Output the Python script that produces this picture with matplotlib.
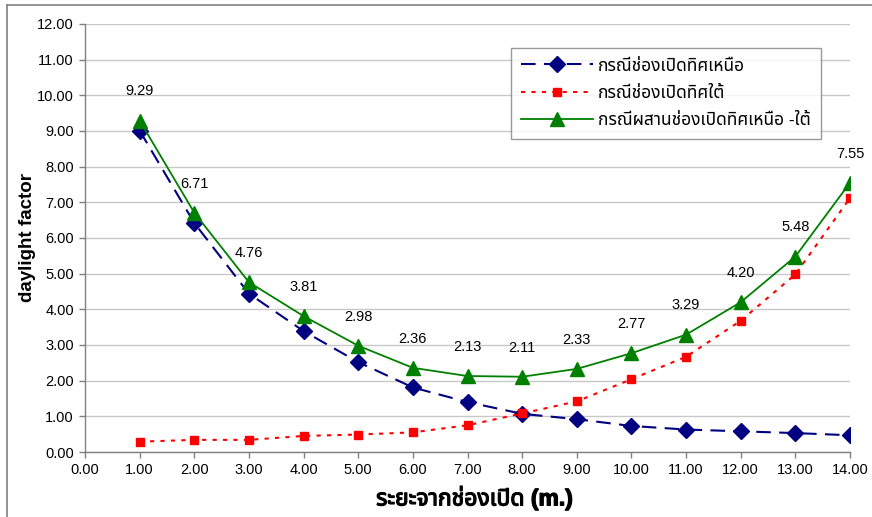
import matplotlib
matplotlib.use("Agg")
import matplotlib.pyplot as plt
from matplotlib import font_manager
from matplotlib.ft2font import FT2Font
from matplotlib.lines import Line2D
import matplotlib.patheffects as pe

# ---------------- data ----------------
distance = [1, 2, 3, 4, 5, 6, 7, 8, 9, 10, 11, 12, 13, 14]
north = [9.01, 6.42, 4.44, 3.39, 2.52, 1.81, 1.40, 1.07, 0.92, 0.73, 0.63, 0.58, 0.53, 0.47]
south = [0.29, 0.34, 0.34, 0.45, 0.49, 0.55, 0.75, 1.08, 1.42, 2.04, 2.67, 3.68, 4.98, 7.12]
combined = [9.29, 6.71, 4.76, 3.81, 2.98, 2.36, 2.13, 2.11, 2.33, 2.77, 3.29, 4.20, 5.48, 7.55]
series_names = ["กรณีช่องเปิดทิศเหนือ", "กรณีช่องเปิดทิศใต้", "กรณีผสานช่องเปิดทิศเหนือ -ใต้"]
x_label = "ระยะจากช่องเปิด (m.)"
y_label = "daylight factor"
y_ticks = [0, 1, 2, 3, 4, 5, 6, 7, 8, 9, 10, 11, 12]
x_ticks = list(range(0, 15))

# ---------------- fonts ----------------
def find_thai_font():
    seen = set()
    prefs = []
    for f in font_manager.fontManager.ttflist:
        if f.name in seen:
            continue
        try:
            cm = FT2Font(f.fname).get_charmap()
        except Exception:
            continue
        if 0x0E01 in cm and 0x0E13 in cm:
            seen.add(f.name)
            prefs.append(f.name)
    for p in ["Tahoma", "Noto Sans Thai", "Noto Sans Thai UI", "Loma", "Garuda", "Norasi"]:
        if p in prefs:
            return p
    return prefs[0] if prefs else None

thai = find_thai_font()
families = ["Liberation Sans"]
if thai:
    families.append(thai)
families.append("DejaVu Sans")
plt.rcParams["font.family"] = families

# ---------------- figure ----------------
fig = plt.figure(figsize=(8.72, 5.17), dpi=100)
ax = fig.add_axes([85 / 872, 1 - 452 / 517, (850 - 85) / 872, (452 - 24) / 517])

# outer chart frame (top and left edges)
fig.add_artist(Line2D([7 / 872, 7 / 872], [0, 1 - 5 / 517], transform=fig.transFigure,
                      color="#808080", lw=1.2))
fig.add_artist(Line2D([7 / 872, 1], [1 - 5 / 517, 1 - 5 / 517], transform=fig.transFigure,
                      color="#808080", lw=1.2))

navy = "#000080"
red = "#FF0000"
green = "#008000"

ax.plot(distance, north, color=navy, lw=1.5, linestyle=(0, (7, 4)), marker="D",
        markersize=8.5, markerfacecolor=navy, markeredgecolor=navy,
        label=series_names[0], zorder=3)
ax.plot(distance, south, color=red, lw=1.5, linestyle=(0, (2, 3)), marker="s",
        markersize=5.5, markerfacecolor=red, markeredgecolor=red,
        label=series_names[1], zorder=3)
ax.plot(distance, combined, color=green, lw=1.3, linestyle="-", marker="^",
        markersize=9.5, markerfacecolor=green, markeredgecolor=green,
        label=series_names[2], zorder=4)

for xv, yv in zip(distance, combined):
    ax.annotate(f"{yv:.2f}", (xv, yv), xytext=(0, 21), textcoords="offset points",
                ha="center", va="center", fontsize=10.5, color="black")

ax.set_xlim(0, 14)
ax.set_ylim(0, 12)
ax.set_xticks(x_ticks)
ax.set_xticklabels([f"{v:.2f}" for v in x_ticks])
ax.set_yticks(y_ticks)
ax.set_yticklabels([f"{v:.2f}" for v in y_ticks])
ax.tick_params(axis="both", direction="out", length=4, width=1, color="#808080",
               labelsize=10.5, labelcolor="black", pad=4)
ax.yaxis.grid(True, color="#C8C8C8", lw=1)
ax.set_axisbelow(True)
for s in ["top", "right"]:
    ax.spines[s].set_visible(False)
for s in ["left", "bottom"]:
    ax.spines[s].set_color("#808080")
    ax.spines[s].set_linewidth(1)

ax.set_ylabel(y_label, fontsize=13.5, fontweight="bold", labelpad=1)
xl = ax.set_xlabel(x_label, fontsize=16.5, fontweight="bold")
ax.xaxis.set_label_coords(0.509, -0.078)
xl.set_path_effects([pe.withStroke(linewidth=0.9, foreground="black")])

leg = ax.legend(loc="upper left", bbox_to_anchor=((511 - 85) / 765, 1 - (48 - 24) / 428),
                frameon=True, fancybox=False, fontsize=12.5, handlelength=4.1,
                handletextpad=0.3, borderpad=0.6, labelspacing=0.7, borderaxespad=0)
leg.get_frame().set_edgecolor("#808080")
leg.get_frame().set_linewidth(1)

fig.savefig("out.png", dpi=100)
